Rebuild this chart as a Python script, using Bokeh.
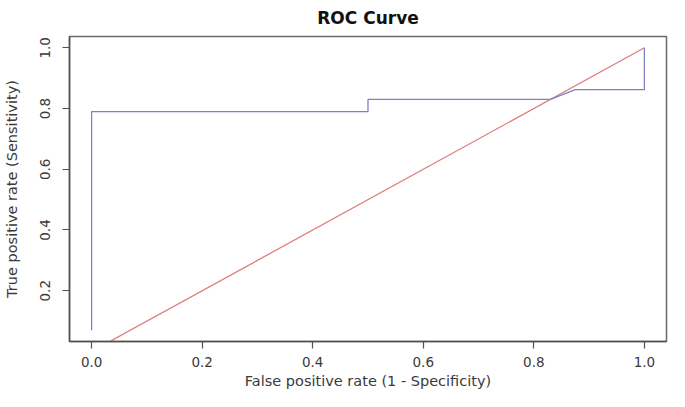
from bokeh.plotting import figure
from bokeh.models import Range1d, FixedTicker
from bokeh.embed import file_html
from bokeh.resources import INLINE

# ROC curve data
fpr = [0.0, 0.0, 0.5, 0.5, 0.83, 0.875, 1.0, 1.0]
tpr = [0.07, 0.79, 0.79, 0.83, 0.83, 0.862, 0.862, 1.0]

# reference diagonal
diag_x = [0.0, 1.0]
diag_y = [0.0, 1.0]

x_ticks = [0.0, 0.2, 0.4, 0.6, 0.8, 1.0]
x_tick_labels = ["0.0", "0.2", "0.4", "0.6", "0.8", "1.0"]
y_ticks = [0.2, 0.4, 0.6, 0.8, 1.0]
y_tick_labels = ["0.2", "0.4", "0.6", "0.8", "1.0"]

FONT = "DejaVu Sans"
TXT = "#3a3a3a"
AX = "#505050"

p = figure(width=669, height=391, output_backend="svg", toolbar_location=None,
           x_range=Range1d(-0.04, 1.04), y_range=Range1d(0.0328, 1.0372),
           min_border_left=69, min_border_right=3, min_border_top=36,
           min_border_bottom=50)

p.title.text = "ROC Curve"
p.title.align = "center"
p.title.vertical_align = "top"
p.title.text_font = FONT
p.title.text_font_size = "17px"
p.title.text_font_style = "bold"
p.title.text_color = "#111111"
p.title.standoff = 14

p.grid.visible = False
p.outline_line_color = "#6a6a6a"
p.outline_line_width = 1.5
p.background_fill_color = "white"
p.border_fill_color = "white"

p.line(diag_x, diag_y, line_color="#df7b7b", line_width=1.3)
p.line(fpr, tpr, line_color="#8080c6", line_width=1.3)

for ax in (p.xaxis[0], p.yaxis[0]):
    ax.axis_line_color = AX
    ax.axis_line_width = 1.5
    ax.major_tick_line_color = AX
    ax.major_tick_line_width = 1.2
    ax.major_tick_out = 7
    ax.major_tick_in = 0
    ax.minor_tick_line_color = None
    ax.major_label_text_font = FONT
    ax.major_label_text_font_size = "13.5px"
    ax.major_label_text_color = TXT
    ax.axis_label_text_font = FONT
    ax.axis_label_text_font_size = "14.5px"
    ax.axis_label_text_font_style = "normal"
    ax.axis_label_text_color = TXT

p.xaxis.ticker = FixedTicker(ticks=x_ticks)
p.xaxis.major_label_overrides = dict(zip(x_ticks, x_tick_labels))
p.xaxis.axis_label = "False positive rate (1 - Specificity)"
p.xaxis.major_label_standoff = 8
p.xaxis.axis_label_standoff = 3

p.yaxis.ticker = FixedTicker(ticks=y_ticks)
p.yaxis.major_label_overrides = dict(zip(y_ticks, y_tick_labels))
p.yaxis.axis_label = "True positive rate (Sensitivity)"
p.yaxis.major_label_orientation = "vertical"
p.yaxis.major_label_standoff = 12
p.yaxis.axis_label_standoff = 18

open("out.html", "w").write(file_html(p, INLINE))
